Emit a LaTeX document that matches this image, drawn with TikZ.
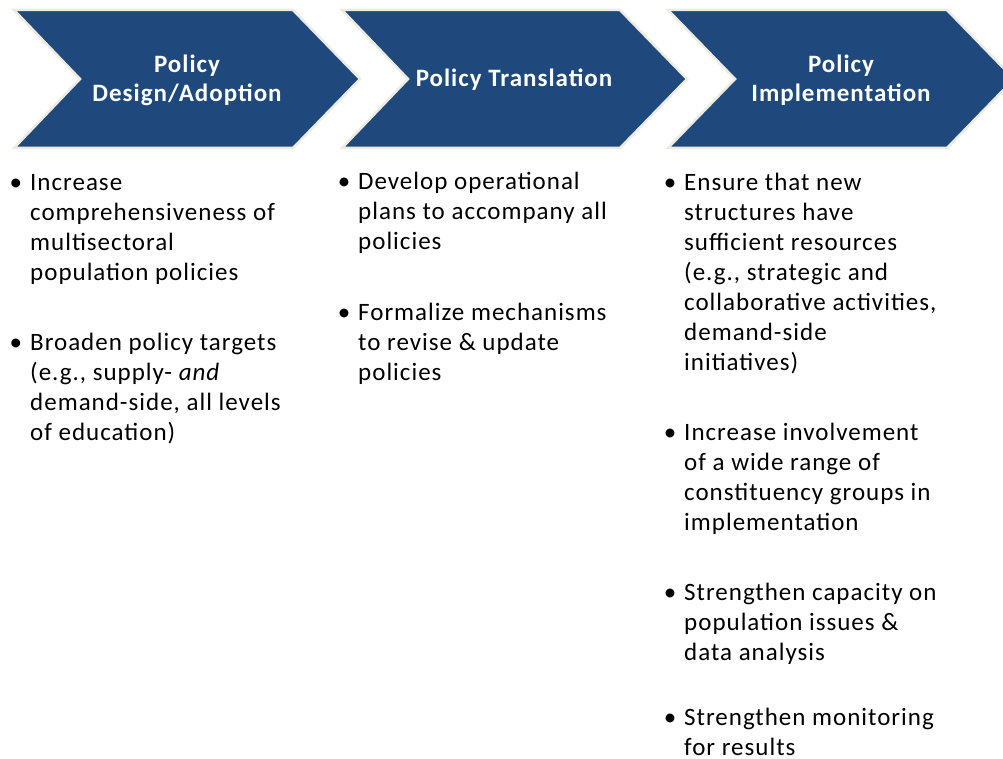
\documentclass[tikz,border=0pt]{standalone}
\usepackage{fontspec}
\setmainfont{Carlito}[LetterSpace=4]
\usepackage{tikz}
\definecolor{chevronblue}{HTML}{1F497D}
\definecolor{chevronrim}{HTML}{EEECE1}
\begin{document}
\begin{tikzpicture}[x=1pt,y=-1pt]
		\tikzset{chevron/.style={fill = chevronblue, draw = chevronrim, line width = 2.5pt, line join = miter}}
		\tikzset{heading/.style={anchor = base, align = center, text = white, inner sep = 0pt,
				font = \fontsize{25}{29}\selectfont\bfseries}}
		\tikzset{item/.style={anchor = base west, align = left, inner sep = 0pt,
				font = \fontsize{25}{30}\selectfont}}
		\newcommand{\bul}{\llap{\textbullet\hspace{8pt}}}
		\useasboundingbox (0,0) rectangle (1003,759);
					%chevrons
					\draw[chevron] (14,10) -- (293,10) -- (360,79) -- (293,148) -- (14,148) -- (80,79) -- cycle;
					\draw[chevron] (342,10) -- (620,10) -- (687,79) -- (620,148) -- (342,148) -- (408,79) -- cycle;
					\draw[chevron] (668,10) -- (947,10) -- (1014,79) -- (947,148) -- (668,148) -- (735,79) -- cycle;
					%headings (anchored at the last line)
					\node[heading] (design) at (187,102) {Policy\\Design/Adoption};
					\node[heading] (translation) at (514,87) {Policy Translation};
					\node[heading] (implementation) at (841,102) {Policy\\Implementation};
					%items (anchored at the last line)
					\node[item] (design1) at (30,280) {\bul Increase\\comprehensiveness of\\multisectoral\\population policies};
					\node[item] (design2) at (30,440) {\bul Broaden policy targets\\(e.g., supply- \emph{and}\\demand-side, all levels\\of education)};
					\node[item] (translation1) at (358,250) {\bul Develop operational\\plans to accompany all\\policies};
					\node[item] (translation2) at (358,380) {\bul Formalize mechanisms\\to revise \& update\\policies};
					\node[item] (implementation1) at (684,370) {\bul Ensure that new\\structures have\\sufficient resources\\(e.g., strategic and\\collaborative activities,\\demand-side\\initiatives)};
					\node[item] (implementation2) at (684,530) {\bul Increase involvement\\of a wide range of\\constituency groups in\\implementation};
					\node[item] (implementation3) at (684,660) {\bul Strengthen capacity on\\population issues \&\\data analysis};
					\node[item] (implementation4) at (684,755) {\bul Strengthen monitoring\\for results};
\end{tikzpicture}
\end{document}
